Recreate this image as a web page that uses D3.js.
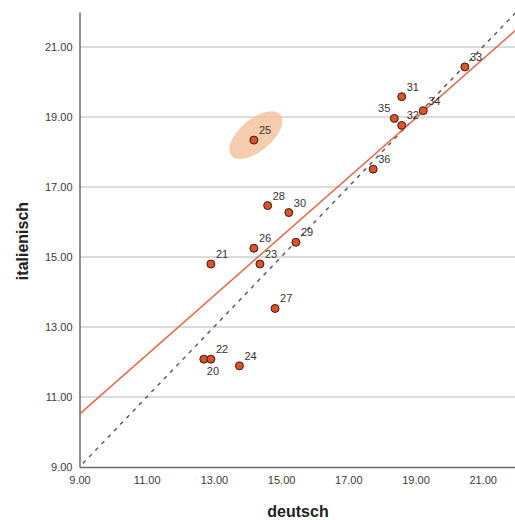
<!DOCTYPE html>
<html>
<head>
<meta charset="utf-8">
<script src="https://cdn.jsdelivr.net/npm/d3@7"></script>
<style>
  html, body { margin: 0; padding: 0; background: #fff; }
  svg { display: block; }
</style>
</head>
<body>
<svg id="chart" width="515" height="520"></svg>
<script>
// Case numbers and scores per subject
const caseIds     = [20, 21, 22, 23, 24, 25, 26, 27, 28, 29, 30, 31, 32, 33, 34, 35, 36];
const deutsch     = [12.70, 12.91, 12.91, 14.37, 13.76, 14.19, 14.19, 14.82, 14.60, 15.44, 15.23, 18.59, 18.59, 20.47, 19.23, 18.37, 17.74];
const italienisch = [12.08, 14.80, 12.08, 14.80, 11.89, 18.34, 15.25, 13.53, 16.47, 15.42, 16.27, 19.58, 18.76, 20.43, 19.18, 18.96, 17.51];

// Axis ticks
const tickValues = [9, 11, 13, 15, 17, 19, 21];

// Fitted line (italienisch = intercept + slope * deutsch)
const fitIntercept = 2.905;
const fitSlope = 0.845;

// Highlighted case
const highlightId = 25;

const svg = d3.select("#chart");
const plotLeft = 79.5, plotRight = 516.3, plotTop = 12, plotBottom = 467;

const x = d3.scaleLinear().domain([9, 22]).range([plotLeft, plotRight]);
const y = d3.scaleLinear().domain([9, 22]).range([plotBottom, plotTop]);

// Horizontal grid lines
svg.append("g")
  .selectAll("line")
  .data(tickValues.filter(v => v > 9))
  .join("line")
  .attr("x1", plotLeft).attr("x2", 515)
  .attr("y1", d => y(d)).attr("y2", d => y(d))
  .attr("stroke", "#cfcfcf")
  .attr("stroke-width", 1.3);

// Axes
const fmt = d3.format(".2f");
const xAxis = svg.append("g")
  .attr("transform", `translate(0,${plotBottom})`)
  .call(d3.axisBottom(x).tickValues(tickValues).tickFormat(fmt).tickSize(0).tickPadding(9));
const yAxis = svg.append("g")
  .attr("transform", `translate(${plotLeft},0)`)
  .call(d3.axisLeft(y).tickValues(tickValues).tickFormat(fmt).tickSize(0).tickPadding(7));

[xAxis, yAxis].forEach(g => {
  g.select(".domain").attr("stroke", "#6a6a6a").attr("stroke-width", 1.5);
  g.selectAll("text")
    .attr("font-family", "Liberation Sans, Arial, sans-serif")
    .attr("font-size", 11)
    .attr("fill", "#3a3a3a");
});

// Highlight ellipse around the flagged case
const hi = caseIds.indexOf(highlightId);
svg.append("ellipse")
  .attr("transform", `translate(${x(deutsch[hi]) + 2},${y(italienisch[hi]) - 5}) rotate(-40)`)
  .attr("rx", 32)
  .attr("ry", 16)
  .attr("fill", "#f3c4a0")
  .attr("fill-opacity", 0.85);

// Identity reference line (y = x)
svg.append("line")
  .attr("x1", x(9.1)).attr("y1", y(9.1))
  .attr("x2", x(22)).attr("y2", y(22))
  .attr("stroke", "#555")
  .attr("stroke-width", 1.4)
  .attr("stroke-dasharray", "4,5");

// Fit line
svg.append("line")
  .attr("x1", x(9)).attr("y1", y(fitIntercept + fitSlope * 9))
  .attr("x2", x(22)).attr("y2", y(fitIntercept + fitSlope * 22))
  .attr("stroke", "#e0694a")
  .attr("stroke-width", 1.5);

// Points
const rows = caseIds.map((id, i) => ({ id, dx: deutsch[i], it: italienisch[i] }));

svg.append("g")
  .selectAll("circle")
  .data(rows)
  .join("circle")
  .attr("cx", d => x(d.dx))
  .attr("cy", d => y(d.it))
  .attr("r", 4)
  .attr("fill", "#d9532b")
  .attr("stroke", "#3b1a10")
  .attr("stroke-width", 1);

// Case labels: default upper right; a few placed elsewhere to avoid overlap
const placeBelow = new Set([20]);
const placeLeft = new Set([35]);
svg.append("g")
  .selectAll("text")
  .data(rows)
  .join("text")
  .attr("x", d => x(d.dx) + (placeLeft.has(d.id) ? -4 : (placeBelow.has(d.id) ? 3 : 5)))
  .attr("y", d => y(d.it) + (placeBelow.has(d.id) ? 16 : -6))
  .attr("text-anchor", d => placeLeft.has(d.id) ? "end" : "start")
  .attr("font-family", "Liberation Sans, Arial, sans-serif")
  .attr("font-size", 11)
  .attr("fill", "#333")
  .text(d => d.id);

// Axis titles
svg.append("text")
  .attr("x", 298).attr("y", 517)
  .attr("text-anchor", "middle")
  .attr("font-family", "Liberation Sans, Arial, sans-serif")
  .attr("font-weight", "bold")
  .attr("font-size", 16)
  .attr("fill", "#222")
  .text("deutsch");

svg.append("text")
  .attr("transform", "translate(28,241) rotate(-90)")
  .attr("text-anchor", "middle")
  .attr("font-family", "Liberation Sans, Arial, sans-serif")
  .attr("font-weight", "bold")
  .attr("font-size", 16)
  .attr("fill", "#222")
  .text("italienisch");
</script>
</body>
</html>
